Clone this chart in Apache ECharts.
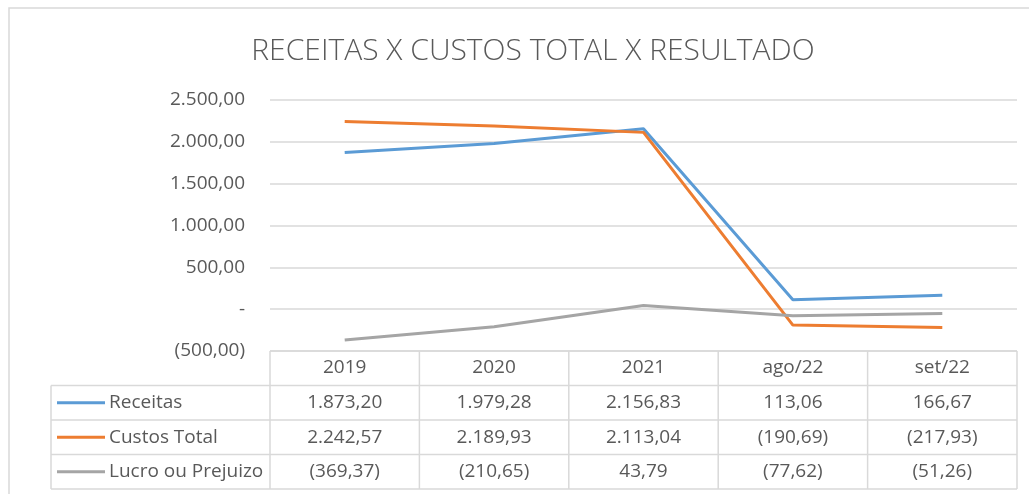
<!DOCTYPE html>
<html><head><meta charset="utf-8">
<script src="https://cdn.jsdelivr.net/npm/echarts@6/dist/echarts.min.js"></script>
<style>html,body{margin:0;padding:0;background:#fff}#c{width:1029px;height:494px}</style>
</head><body><div id="c"></div>
<script>
var categories = ['2019', '2020', '2021', 'ago/22', 'set/22'];
var receitas = [1873.20, 1979.28, 2156.83, 113.06, 166.67];
var custos = [2242.57, 2189.93, 2113.04, -190.69, -217.93];
var lucro = [-369.37, -210.65, 43.79, -77.62, -51.26];
var seriesNames = ['Receitas', 'Custos Total', 'Lucro ou Prejuizo'];
var seriesColors = ['#5B9BD5', '#ED7D31', '#A5A5A5'];
var yTicks = {min: -500, max: 2500, interval: 500};

(function () {
function fmt(v) {
  var a = Math.abs(v);
  var parts = a.toFixed(2).split('.');
  var ip = parts[0].replace(/\B(?=(\d{3})+(?!\d))/g, '.');
  var s = ip + ',' + parts[1];
  return v < 0 ? '(' + s + ')' : s;
}
function axisFmt(v) {
  if (v === 0) return '-';
  return fmt(v);
}

var FONT = 'Open Sans';
var FS = 19;
var TXT = '#595959';
var GRID = '#D9D9D9';
var chart = echarts.init(document.getElementById('c'), null, {renderer: 'canvas'});
var seriesData = [receitas, custos, lucro];

chart.setOption({
  animation: false,
  backgroundColor: '#fff',
  title: {
    text: 'RECEITAS X CUSTOS TOTAL X RESULTADO',
    left: 528, top: 31, textAlign: 'center',
    textStyle: {fontFamily: FONT, fontWeight: 300, fontSize: 30, color: TXT}
  },
  grid: {left: 270, right: 12, top: 100, bottom: 143},
  xAxis: {
    type: 'category', data: categories, boundaryGap: true,
    axisLine: {show: false}, axisTick: {show: false},
    axisLabel: {fontFamily: FONT, fontSize: FS, color: TXT, margin: 7}
  },
  yAxis: {
    type: 'value', min: yTicks.min, max: yTicks.max, interval: yTicks.interval,
    axisLine: {show: false}, axisTick: {show: false},
    axisLabel: {fontFamily: FONT, fontSize: FS, color: TXT, margin: 25, formatter: axisFmt},
    splitLine: {lineStyle: {color: GRID, width: 1.5}}
  },
  series: seriesData.map(function (d, i) {
    return {
      name: seriesNames[i], type: 'line', data: d, symbol: 'none',
      lineStyle: {color: seriesColors[i], width: 3}, itemStyle: {color: seriesColors[i]}
    };
  })
});

// Build the data table from the grid geometry
var x0 = chart.convertToPixel({xAxisIndex: 0}, 0);
var x1 = chart.convertToPixel({xAxisIndex: 0}, 1);
var colW = x1 - x0;
var tLeft = x0 - colW / 2;
var tRight = tLeft + colW * categories.length;
var tTop = chart.convertToPixel({yAxisIndex: 0}, yTicks.min);
var rowH = 34.5;
var tableL = 51;
var g = [];
var lc = {stroke: GRID, lineWidth: 1.5};
g.push({type: 'rect', shape: {x: 9, y: 8, width: 1040, height: 500}, style: {fill: 'transparent', stroke: '#D9D9D9', lineWidth: 1.5}, silent: true});
g.push({type: 'line', shape: {x1: tLeft, y1: tTop, x2: tRight, y2: tTop}, style: lc});
for (var r = 1; r <= 4; r++) {
  var y = tTop + rowH * r;
  g.push({type: 'line', shape: {x1: tableL, y1: y, x2: tRight, y2: y}, style: lc});
}
for (var c = 0; c <= categories.length; c++) {
  var x = tLeft + colW * c;
  g.push({type: 'line', shape: {x1: x, y1: tTop, x2: x, y2: tTop + rowH * 4}, style: lc});
}
g.push({type: 'line', shape: {x1: tableL, y1: tTop + rowH, x2: tableL, y2: tTop + rowH * 4}, style: lc});
for (var s = 0; s < seriesData.length; s++) {
  var cy = tTop + rowH * (s + 1.5);
  g.push({type: 'line', shape: {x1: 57, y1: cy, x2: 105, y2: cy}, style: {stroke: seriesColors[s], lineWidth: 3}});
  g.push({type: 'text', x: 109, y: cy, style: {text: seriesNames[s], font: FS + 'px "' + FONT + '"', fill: TXT, align: 'left', verticalAlign: 'middle'}});
  for (var k = 0; k < categories.length; k++) {
    g.push({type: 'text', x: tLeft + colW * (k + 0.5), y: cy, style: {text: fmt(seriesData[s][k]), font: FS + 'px "' + FONT + '"', fill: TXT, align: 'center', verticalAlign: 'middle'}});
  }
}
chart.setOption({graphic: g});
})();
</script></body></html>
